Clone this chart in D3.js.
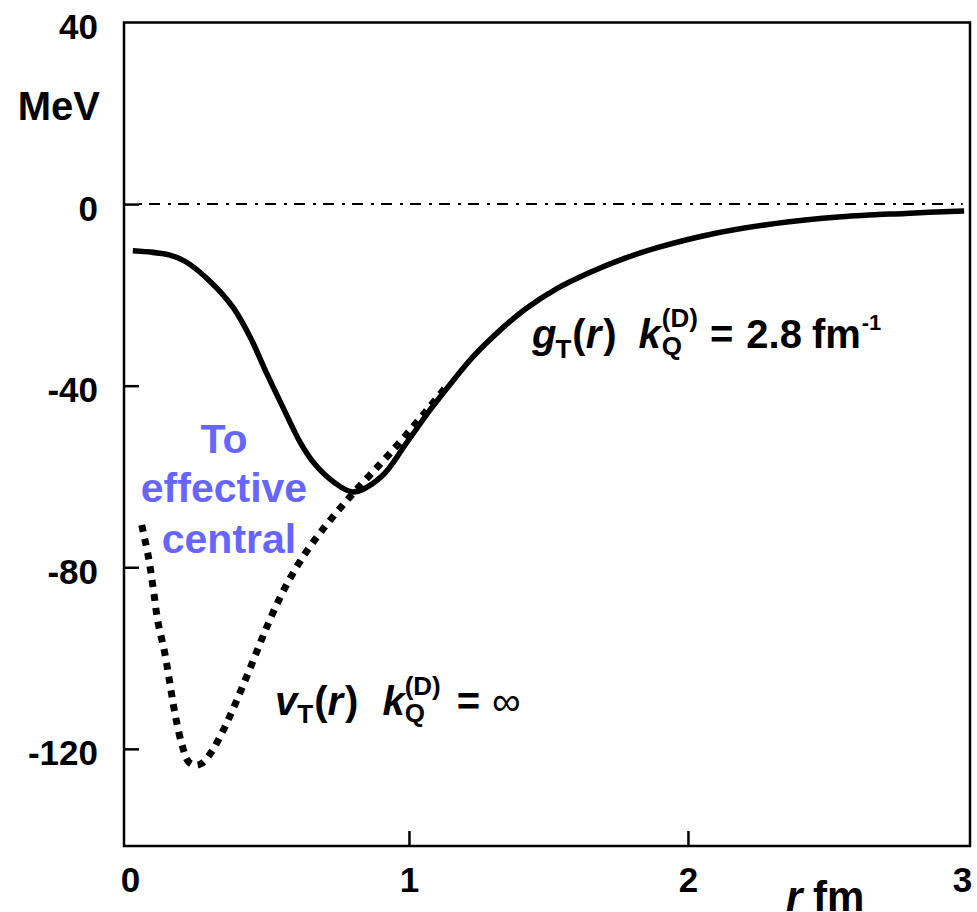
<!DOCTYPE html>
<html>
<head>
<meta charset="utf-8">
<script src="https://cdn.jsdelivr.net/npm/d3@7"></script>
<style>
  html, body { margin: 0; padding: 0; background: #fff; }
  svg { display: block; }
</style>
</head>
<body>
<svg id="chart" width="977" height="912"></svg>
<script>
// Tensor potential g_T(r) with finite cutoff and bare v_T(r) (infinite cutoff)
const rG = [0.01, 0.14, 0.2, 0.29, 0.37, 0.43, 0.49, 0.55, 0.61, 0.66, 0.73, 0.8, 0.9, 0.99, 1.075, 1.15, 1.23, 1.33, 1.42, 1.53, 1.65, 1.77, 1.89, 2.07, 2.31, 2.55, 2.78, 2.99];
const gT = [-10.3, -11.2, -12.7, -17.2, -22.8, -29.2, -37.3, -45.0, -52.5, -57.1, -61.2, -63.4, -60.1, -52.7, -45.4, -39.5, -33.6, -27.6, -23.0, -18.6, -15.0, -12.0, -9.6, -6.8, -4.3, -2.8, -2.05, -1.5];

const rV = [0.042, 0.066, 0.084, 0.10, 0.125, 0.143, 0.161, 0.185, 0.209, 0.233, 0.257, 0.293, 0.323, 0.358, 0.40, 0.442, 0.478, 0.52, 0.573, 0.633, 0.693, 0.753, 0.80, 0.86, 0.932, 1.01, 1.075, 1.13];
const vT = [-70.7, -77.7, -85, -92, -99, -105.6, -112.2, -118.8, -122.8, -123.6, -123.2, -120.6, -117.3, -112.8, -106.8, -100.5, -95.0, -89.0, -82.5, -76.5, -71.5, -67.0, -63.7, -59.7, -54.9, -49.4, -44.6, -40.5];

const xTicks = [0, 1, 2, 3];
const yTicks = [40, 0, -40, -80, -120];
const xDomain = [-0.0215, 3.011];
const yDomain = [-141.4, 40];

const FONT = "'Liberation Sans', Arial, Helvetica, sans-serif";
const svg = d3.select("#chart");

const x = d3.scaleLinear().domain(xDomain).range([124, 970]);
const y = d3.scaleLinear().domain(yDomain).range([846, 22.5]);

// axes with inward ticks, plain hyphen for negatives
const fmt = d => String(d);
const yAxis = svg.append("g")
  .attr("transform", `translate(${x(xDomain[0])},0)`)
  .call(d3.axisLeft(y).tickValues(yTicks).tickSize(-15).tickPadding(26).tickFormat(fmt));
const xAxis = svg.append("g")
  .attr("transform", `translate(0,${y(yDomain[0])})`)
  .call(d3.axisBottom(x).tickValues(xTicks).tickSize(-15).tickPadding(21).tickFormat(fmt));

[yAxis, xAxis].forEach(a => {
  a.select(".domain").remove();
  a.selectAll(".tick line").attr("stroke", "#000").attr("stroke-width", 2.5);
  a.selectAll(".tick text")
    .attr("font-family", FONT).attr("font-size", 35).attr("font-weight", "bold").attr("fill", "#000");
});
yAxis.selectAll(".tick text").attr("dy", "0.46em");
yAxis.selectAll(".tick").filter(d => d === 40).select("line").remove();
xAxis.selectAll(".tick").filter(d => d === 0 || d === 3).select("line").remove();
xAxis.selectAll(".tick").filter(d => d === 3).select("text").attr("dx", -5);

// frame
svg.append("rect")
  .attr("x", x(xDomain[0])).attr("y", y(yDomain[1]))
  .attr("width", x(xDomain[1]) - x(xDomain[0]))
  .attr("height", y(yDomain[0]) - y(yDomain[1]))
  .attr("fill", "none").attr("stroke", "#000").attr("stroke-width", 2.5);

// zero reference line
svg.append("line")
  .attr("x1", x(xDomain[0]) + 15).attr("x2", x(2.985))
  .attr("y1", y(0)).attr("y2", y(0))
  .attr("stroke", "#000").attr("stroke-width", 2)
  .attr("stroke-dasharray", "3,7,11,8");

const line = d3.line().x(d => x(d[0])).y(d => y(d[1])).curve(d3.curveCatmullRom.alpha(0.5));

// v_T(r): dotted
svg.append("path")
  .attr("d", line(d3.zip(rV, vT)))
  .attr("fill", "none").attr("stroke", "#000")
  .attr("stroke-width", 7).attr("stroke-dasharray", "7,7");

// g_T(r): solid
svg.append("path")
  .attr("d", line(d3.zip(rG, gT)))
  .attr("fill", "none").attr("stroke", "#000")
  .attr("stroke-width", 5.5).attr("stroke-linejoin", "round");

// axis titles
svg.append("text").attr("x", 100).attr("y", 120).attr("text-anchor", "end")
  .attr("font-family", FONT).attr("font-size", 40).attr("font-weight", "bold").text("MeV");
const xt = svg.append("text").attr("x", 786).attr("y", 911)
  .attr("font-family", FONT).attr("font-size", 42).attr("font-weight", "bold");
xt.append("tspan").attr("font-style", "italic").text("r");
xt.append("tspan").attr("x", 813).text("fm");

// rich label: parts laid out left to right, stacked parts share a column
function richLabel(x0, base, parts) {
  const g = svg.append("g");
  let cx = x0;
  parts.forEach(p => {
    cx += p.gap || 0;
    const items = p.stack || [p];
    let w = 0;
    items.forEach(it => {
      const t = g.append("text")
        .attr("x", cx).attr("y", base + (it.dy || 0))
        .attr("font-family", FONT)
        .attr("font-size", it.size || 40)
        .attr("font-weight", it.weight || "bold")
        .attr("font-style", it.italic ? "italic" : "normal")
        .attr("fill", "#000")
        .text(it.t);
      w = Math.max(w, t.node().getComputedTextLength());
    });
    cx += w;
  });
  return g;
}

richLabel(532, 348, [
  {t: "g", italic: true},
  {t: "T", size: 26, dy: 10, gap: -1},
  {t: "(", gap: 1},
  {t: "r", italic: true},
  {t: ")", gap: 2},
  {t: "k", italic: true, gap: 22},
  {stack: [{t: "Q", size: 26, dy: 7}, {t: "(D)", size: 26, dy: -21}], gap: 1},
  {t: "=", gap: 12},
  {t: "2.8", gap: 13},
  {t: "fm", gap: 10},
  {t: "-1", size: 22, dy: -18, gap: 1}
]);

richLabel(275, 715, [
  {t: "v", italic: true},
  {t: "T", size: 26, dy: 8, gap: 0},
  {t: "(", gap: 1},
  {t: "r", italic: true},
  {t: ")", gap: 2},
  {t: "k", italic: true, gap: 24},
  {stack: [{t: "Q", size: 26, dy: 7}, {t: "(D)", size: 26, dy: -20}], gap: 0},
  {t: "=", gap: 16},
  {t: "\u221E", weight: "normal", gap: 12}
]);

// blue annotation
const blue = "#6666ff";
[["To", 224, 453], ["effective", 224, 502], ["central", 229, 553]].forEach(([s, tx, ty]) => {
  svg.append("text").attr("x", tx).attr("y", ty).attr("text-anchor", "middle")
    .attr("font-family", FONT).attr("font-size", 41).attr("font-weight", "bold")
    .attr("fill", blue).text(s);
});
</script>
</body>
</html>
